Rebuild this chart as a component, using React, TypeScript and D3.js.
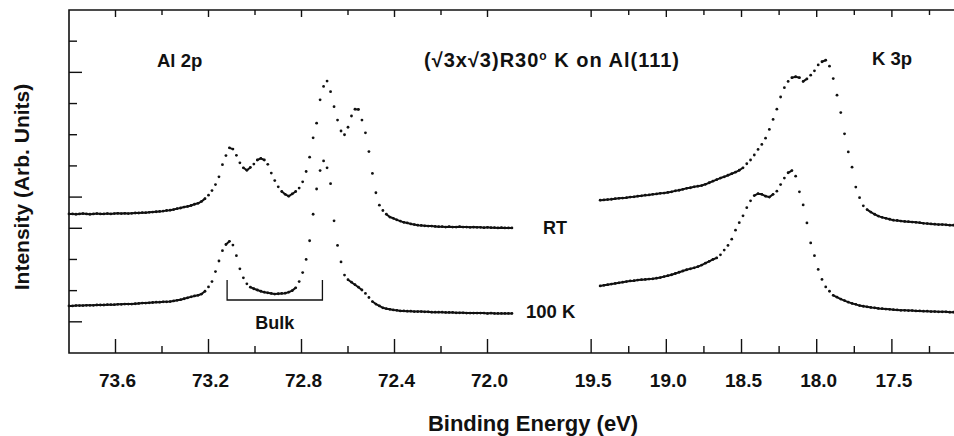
import React, { useRef, useEffect } from 'react';
import * as d3 from 'd3';

// energy grids (eV): start + step * index
const AL_START = 73.8;
const AL_STEP = 0.015;
const K_START = 19.44;
const K_STEP = 0.025;

// Al 2p, room temperature
const alRT = [
  4.46, 4.46, 4.45, 4.46, 4.47, 4.46, 4.45, 4.46, 4.47, 4.46,
  4.46, 4.47, 4.46, 4.47, 4.48, 4.47, 4.48, 4.47, 4.48, 4.49,
  4.49, 4.50, 4.50, 4.51, 4.52, 4.53, 4.54, 4.55, 4.57, 4.58,
  4.60, 4.63, 4.65, 4.68, 4.70, 4.73, 4.77, 4.80, 4.86, 4.95,
  5.06, 5.21, 5.40, 5.65, 6.04, 6.33, 6.58, 6.54, 6.34, 6.10,
  5.94, 5.86, 5.95, 6.06, 6.19, 6.24, 6.19, 6.05, 5.77, 5.53,
  5.33, 5.18, 5.09, 5.03, 5.10, 5.18, 5.29, 5.49, 5.82, 6.28,
  6.90, 7.37, 8.12, 8.55, 8.72, 8.38, 7.90, 7.47, 7.12, 7.00,
  7.24, 7.60, 7.82, 7.81, 7.47, 7.06, 6.46, 5.76, 5.14, 4.74,
  4.57, 4.45, 4.36, 4.32, 4.27, 4.23, 4.19, 4.17, 4.14, 4.12,
  4.10, 4.09, 4.08, 4.07, 4.07, 4.06, 4.05, 4.05, 4.04, 4.05,
  4.04, 4.04, 4.05, 4.04, 4.04, 4.03, 4.04, 4.03, 4.03, 4.02,
  4.03, 4.02, 4.02, 4.01, 4.02, 4.01, 4.01, 4.01,
];

// Al 2p, 100 K
const al100K = [
  1.51, 1.51, 1.52, 1.52, 1.52, 1.53, 1.53, 1.53, 1.54, 1.54,
  1.54, 1.55, 1.55, 1.55, 1.56, 1.56, 1.57, 1.57, 1.57, 1.58,
  1.59, 1.60, 1.60, 1.61, 1.62, 1.63, 1.63, 1.64, 1.64, 1.65,
  1.67, 1.69, 1.71, 1.74, 1.77, 1.80, 1.83, 1.85, 1.89, 1.98,
  2.12, 2.29, 2.61, 2.95, 3.28, 3.48, 3.58, 3.46, 3.12, 2.70,
  2.41, 2.22, 2.11, 2.06, 2.02, 1.98, 1.95, 1.93, 1.91, 1.89,
  1.90, 1.91, 1.92, 1.95, 2.00, 2.09, 2.29, 2.58, 3.00, 3.60,
  4.45, 5.26, 5.85, 6.16, 5.94, 5.43, 4.24, 3.45, 2.92, 2.50,
  2.35, 2.27, 2.19, 2.11, 2.02, 1.91, 1.78, 1.65, 1.57, 1.51,
  1.45, 1.42, 1.40, 1.38, 1.37, 1.35, 1.35, 1.34, 1.34, 1.33,
  1.33, 1.33, 1.32, 1.32, 1.31, 1.31, 1.31, 1.31, 1.30, 1.30,
  1.30, 1.29, 1.29, 1.29, 1.28, 1.28, 1.28, 1.28, 1.28, 1.28,
  1.27, 1.28, 1.27, 1.27, 1.27, 1.27, 1.27, 1.27,
];

// K 3p, room temperature
const kRT = [
  4.90, 4.91, 4.92, 4.93, 4.95, 4.96, 4.97, 4.98, 5.00, 5.01,
  5.03, 5.04, 5.06, 5.07, 5.09, 5.10, 5.12, 5.13, 5.15, 5.17,
  5.20, 5.22, 5.25, 5.28, 5.30, 5.33, 5.35, 5.37, 5.41, 5.46,
  5.51, 5.56, 5.61, 5.65, 5.70, 5.75, 5.80, 5.86, 5.94, 6.07,
  6.19, 6.35, 6.53, 6.69, 6.89, 7.17, 7.49, 7.82, 8.21, 8.51,
  8.71, 8.83, 8.86, 8.83, 8.71, 8.79, 8.91, 9.05, 9.24, 9.34,
  9.39, 9.20, 8.80, 8.27, 7.71, 7.03, 6.45, 5.96, 5.32, 4.98,
  4.72, 4.60, 4.52, 4.45, 4.39, 4.35, 4.32, 4.29, 4.26, 4.25,
  4.23, 4.22, 4.21, 4.20, 4.19, 4.18, 4.16, 4.15, 4.14, 4.13,
  4.12, 4.12, 4.11, 4.10, 4.10,
];

// K 3p, 100 K
const k100K = [
  2.15, 2.17, 2.19, 2.21, 2.23, 2.25, 2.27, 2.29, 2.31, 2.32,
  2.34, 2.35, 2.36, 2.37, 2.38, 2.40, 2.42, 2.45, 2.48, 2.51,
  2.55, 2.59, 2.63, 2.67, 2.70, 2.73, 2.77, 2.82, 2.88, 2.94,
  3.00, 3.05, 3.15, 3.30, 3.45, 3.65, 3.94, 4.18, 4.40, 4.66,
  4.88, 5.05, 5.11, 5.09, 5.03, 5.00, 5.09, 5.19, 5.40, 5.61,
  5.78, 5.85, 5.67, 5.17, 4.75, 4.17, 3.53, 3.12, 2.68, 2.36,
  2.12, 1.98, 1.85, 1.79, 1.73, 1.68, 1.63, 1.59, 1.56, 1.52,
  1.50, 1.48, 1.46, 1.45, 1.43, 1.42, 1.41, 1.40, 1.39, 1.38,
  1.37, 1.37, 1.36, 1.36, 1.35, 1.35, 1.34, 1.34, 1.33, 1.33,
  1.32, 1.32, 1.32, 1.31, 1.31,
];

const alMajor = [73.6, 73.2, 72.8, 72.4, 72.0];
const alMinor = [73.4, 73.0, 72.6, 72.2];
const kMajor = [19.5, 19.0, 18.5, 18.0, 17.5];
const kMinor = [19.25, 18.75, 18.25, 17.75, 17.25];
const yTicks = [1, 2, 3, 4, 5, 6, 7, 8, 9, 10];
const yLongTicks = [1, 4, 5, 9];

// bracket under the bulk doublet
const bulkRange = [73.12, 72.71];
const bulkLevels = [2.34, 1.7];

const W = 954;
const H = 436;
const FONT = '"Liberation Sans", Arial, Helvetica, sans-serif';
const INK = '#111';

const App: React.FC = () => {
  const svgRef = useRef<SVGSVGElement>(null);

  useEffect(() => {
    if (!svgRef.current) return;
    const svg = d3.select(svgRef.current);
    svg.selectAll('*').remove();

    const left = 69, top = 10, bottom = 353, split = 534;

    const xAl = d3.scaleLinear().domain([73.8, 71.8]).range([left, split]);
    const xK = d3.scaleLinear().domain([19.88, 17.087]).range([split, W]);
    const y = d3.scaleLinear().domain([0, 11]).range([bottom, top]);

    // frame (open on the right, cropped)
    svg.append('path')
      .attr('d', `M${W},${top}H${left}V${bottom}H${W}`)
      .attr('fill', 'none')
      .attr('stroke', INK)
      .attr('stroke-width', 1.6);

    // x ticks, bottom and top
    const xTicks = [
      ...alMajor.map(v => ({ x: xAl(v), major: true, label: v })),
      ...alMinor.map(v => ({ x: xAl(v), major: false, label: v })),
      ...kMajor.map(v => ({ x: xK(v), major: true, label: v })),
      ...kMinor.map(v => ({ x: xK(v), major: false, label: v })),
    ];
    const tg = svg.append('g').attr('stroke', INK).attr('stroke-width', 1.4);
    xTicks.forEach(t => {
      tg.append('line')
        .attr('x1', t.x).attr('x2', t.x)
        .attr('y1', bottom).attr('y2', bottom - (t.major ? 14 : 7));
      tg.append('line')
        .attr('x1', t.x).attr('x2', t.x)
        .attr('y1', top).attr('y2', top + (t.major ? 7 : 5));
    });

    yTicks.forEach(v => {
      tg.append('line')
        .attr('x1', left).attr('x2', left + (yLongTicks.includes(v) ? 13 : 8))
        .attr('y1', y(v)).attr('y2', y(v));
    });

    const fmt = d3.format('.1f');
    xTicks.filter(t => t.major).forEach(t => {
      svg.append('text')
        .attr('x', t.x + 2)
        .attr('y', 387)
        .attr('text-anchor', 'middle')
        .attr('font-family', FONT)
        .attr('font-weight', 'bold')
        .attr('font-size', 19)
        .attr('fill', INK)
        .text(fmt(t.label));
    });

    // spectra
    const series = [
      { values: alRT, start: AL_START, step: AL_STEP, x: xAl },
      { values: al100K, start: AL_START, step: AL_STEP, x: xAl },
      { values: kRT, start: K_START, step: K_STEP, x: xK },
      { values: k100K, start: K_START, step: K_STEP, x: xK },
    ];

    series.forEach(s => {
      const pts = s.values.map((v, i) => [s.x(s.start - s.step * i), y(v)] as [number, number]);

      // dense stretches read as a solid trace, sparse ones as separate dots
      const p = d3.path();
      for (let i = 1; i < pts.length; i++) {
        const [x0, y0] = pts[i - 1];
        const [x1, y1] = pts[i];
        if (Math.hypot(x1 - x0, y1 - y0) < 4.8) {
          p.moveTo(x0, y0);
          p.lineTo(x1, y1);
        }
      }
      svg.append('path')
        .attr('d', p.toString())
        .attr('fill', 'none')
        .attr('stroke', INK)
        .attr('stroke-width', 2)
        .attr('stroke-linecap', 'round');

      svg.append('g')
        .selectAll('circle')
        .data(pts)
        .join('circle')
        .attr('cx', d => d[0])
        .attr('cy', d => d[1])
        .attr('r', 1.4)
        .attr('fill', INK);
    });

    // bulk bracket
    svg.append('path')
      .attr('d', `M${xAl(bulkRange[0])},${y(bulkLevels[0])}V${y(bulkLevels[1])}H${xAl(bulkRange[1])}V${y(bulkLevels[0])}`)
      .attr('fill', 'none')
      .attr('stroke', INK)
      .attr('stroke-width', 1.3);

    const label = (txt: string, x: number, yy: number, size: number, anchor = 'start') =>
      svg.append('text')
        .attr('x', x)
        .attr('y', yy)
        .attr('text-anchor', anchor)
        .attr('font-family', FONT)
        .attr('font-weight', 'bold')
        .attr('font-size', size)
        .attr('fill', INK)
        .text(txt);

    label('Al 2p', 157, 67, 18.5);
    label('K 3p', 872, 65, 18.5);
    label('RT', 543, 234, 18);
    label('100 K', 526, 318, 18.5);
    label('Bulk', (xAl(bulkRange[0]) + xAl(bulkRange[1])) / 2, 329, 18, 'middle');

    const title = label('(√3x√3)R30', 424, 67, 20).attr('letter-spacing', 1);
    title.append('tspan').attr('dy', -7).attr('font-size', 12).text('o');
    title.append('tspan').attr('dy', 7).text(' K on Al(111)');

    label('Binding Energy (eV)', 533, 431, 22, 'middle');

    svg.append('text')
      .attr('transform', 'translate(29,187) rotate(-90)')
      .attr('text-anchor', 'middle')
      .attr('font-family', FONT)
      .attr('font-weight', 'bold')
      .attr('font-size', 21)
      .attr('fill', INK)
      .text('Intensity (Arb. Units)');
  }, []);

  return (
    <svg
      ref={svgRef}
      width={W}
      height={H}
      style={{ position: 'absolute', left: 0, top: 0, background: '#fff' }}
    />
  );
};

export default App;
